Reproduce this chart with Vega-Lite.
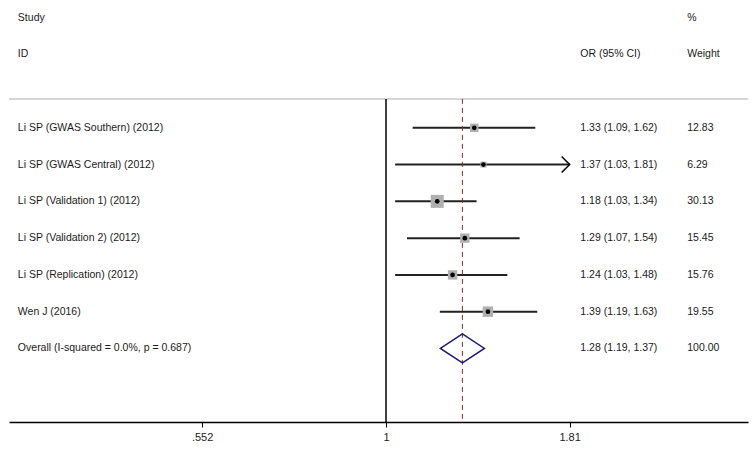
{
  "$schema": "https://vega.github.io/schema/vega-lite/v6.json",
  "width": 739,
  "height": 422,
  "autosize": {"type": "none"},
  "padding": {"left": 9, "top": 0, "right": 7, "bottom": 31},
  "background": "white",
  "config": {"view": {"stroke": null}, "text": {"font": "Liberation Sans", "fontSize": 10.5, "color": "#1a1a1a"}},
  "data": {"values": [
    {"row": 1, "study": "Li SP (GWAS Southern) (2012)", "est": 1.33, "lo": 1.09, "hi": 1.62, "weight": 12.83, "ortext": "1.33 (1.09, 1.62)", "wtext": "12.83"},
    {"row": 2, "study": "Li SP (GWAS Central) (2012)", "est": 1.37, "lo": 1.03, "hi": 1.81, "weight": 6.29, "ortext": "1.37 (1.03, 1.81)", "wtext": "6.29"},
    {"row": 3, "study": "Li SP (Validation 1) (2012)", "est": 1.18, "lo": 1.03, "hi": 1.34, "weight": 30.13, "ortext": "1.18 (1.03, 1.34)", "wtext": "30.13"},
    {"row": 4, "study": "Li SP (Validation 2) (2012)", "est": 1.29, "lo": 1.07, "hi": 1.54, "weight": 15.45, "ortext": "1.29 (1.07, 1.54)", "wtext": "15.45"},
    {"row": 5, "study": "Li SP (Replication) (2012)", "est": 1.24, "lo": 1.03, "hi": 1.48, "weight": 15.76, "ortext": "1.24 (1.03, 1.48)", "wtext": "15.76"},
    {"row": 6, "study": "Wen J (2016)", "est": 1.39, "lo": 1.19, "hi": 1.63, "weight": 19.55, "ortext": "1.39 (1.19, 1.63)", "wtext": "19.55"},
    {"row": 7, "study": "Overall  (I-squared = 0.0%, p = 0.687)", "est": 1.28, "lo": 1.19, "hi": 1.37, "weight": 100, "ortext": "1.28 (1.19, 1.37)", "wtext": "100.00"}
  ]},
  "layer": [
    {
      "data": {"values": [{}]},
      "mark": {"type": "rule", "color": "#c8c8c8", "strokeWidth": 1.5},
      "encoding": {
        "y": {"datum": 0.213, "type": "quantitative", "scale": {"domain": [-2.476, 9], "reverse": true, "nice": false, "zero": false}, "axis": null}
      }
    },
    {
      "transform": [{"filter": "datum.row <= 6"}],
      "mark": {"type": "rule", "color": "#222222", "strokeWidth": 2},
      "encoding": {
        "x": {"field": "lo", "type": "quantitative",
          "scale": {"type": "log", "domain": [0.2958, 3.2207], "nice": false, "zero": false},
          "axis": {"values": [0.552, 1, 1.81], "labelExpr": "replace(format(datum.value, '.3~f'), /^0/, '')", "title": null, "grid": false,
            "domainColor": "#000000", "domainWidth": 1.5, "tickColor": "#000000", "tickWidth": 1, "tickSize": 5,
            "labelFont": "Liberation Sans", "labelFontSize": 11, "labelColor": "#1a1a1a", "labelPadding": 4}},
        "x2": {"field": "hi"},
        "y": {"field": "row", "type": "quantitative", "axis": null}
      }
    },
    {
      "data": {"values": [{}]},
      "mark": {"type": "rule", "color": "#000000", "strokeWidth": 1.5},
      "encoding": {
        "x": {"datum": 1, "type": "quantitative"},
        "y": {"datum": 0.213, "type": "quantitative", "axis": null},
        "y2": {"datum": 9}
      }
    },
    {
      "data": {"values": [{}]},
      "mark": {"type": "rule", "color": "#8b2a2a", "strokeWidth": 1, "strokeDash": [5, 4]},
      "encoding": {
        "x": {"datum": 1.28, "type": "quantitative"},
        "y": {"datum": 0.213, "type": "quantitative", "axis": null},
        "y2": {"datum": 9}
      }
    },
    {
      "transform": [{"filter": "datum.row <= 6"}],
      "mark": {"type": "point", "shape": "square", "filled": true, "color": "#b0b0b0", "opacity": 1, "strokeWidth": 0},
      "encoding": {
        "x": {"field": "est", "type": "quantitative"},
        "y": {"field": "row", "type": "quantitative", "axis": null},
        "size": {"field": "weight", "type": "quantitative", "scale": {"type": "linear", "domain": [0, 30.13], "range": [0, 169]}, "legend": null}
      }
    },
    {
      "transform": [{"filter": "datum.row <= 6"}],
      "mark": {"type": "point", "shape": "circle", "filled": true, "color": "#000000", "opacity": 1, "size": 22, "strokeWidth": 0},
      "encoding": {
        "x": {"field": "est", "type": "quantitative"},
        "y": {"field": "row", "type": "quantitative", "axis": null}
      }
    },
    {
      "transform": [{"filter": "datum.row <= 6 && datum.hi >= 1.81"}],
      "mark": {"type": "point", "shape": "M-1,-1L0,0L-1,1", "filled": false, "color": "#000000", "opacity": 1, "size": 256, "strokeWidth": 1.5},
      "encoding": {
        "x": {"field": "hi", "type": "quantitative"},
        "y": {"field": "row", "type": "quantitative", "axis": null}
      }
    },
    {
      "transform": [{"filter": "datum.row == 7"}],
      "mark": {"type": "point", "shape": "M-1,0L0,-0.66L1,0L0,0.66Z", "filled": false, "color": "#1c1c74", "opacity": 1, "size": 1936, "strokeWidth": 1.5},
      "encoding": {
        "x": {"field": "est", "type": "quantitative"},
        "y": {"field": "row", "type": "quantitative", "axis": null}
      }
    },
    {
      "mark": {"type": "text", "align": "left", "baseline": "middle"},
      "encoding": {
        "x": {"datum": 0.3044, "type": "quantitative"},
        "y": {"field": "row", "type": "quantitative", "axis": null},
        "text": {"field": "study"}
      }
    },
    {
      "mark": {"type": "text", "align": "left", "baseline": "middle"},
      "encoding": {
        "x": {"datum": 1.8735, "type": "quantitative"},
        "y": {"field": "row", "type": "quantitative", "axis": null},
        "text": {"field": "ortext"}
      }
    },
    {
      "mark": {"type": "text", "align": "left", "baseline": "middle"},
      "encoding": {
        "x": {"datum": 2.6464, "type": "quantitative"},
        "y": {"field": "row", "type": "quantitative", "axis": null},
        "text": {"field": "wtext"}
      }
    },
    {
      "data": {"values": [{}]},
      "mark": {"type": "text", "align": "left", "baseline": "middle", "text": "Study"},
      "encoding": {
        "x": {"datum": 0.3044, "type": "quantitative"},
        "y": {"datum": -2, "type": "quantitative", "axis": null}
      }
    },
    {
      "data": {"values": [{}]},
      "mark": {"type": "text", "align": "left", "baseline": "middle", "text": "ID"},
      "encoding": {
        "x": {"datum": 0.3044, "type": "quantitative"},
        "y": {"datum": -1, "type": "quantitative", "axis": null}
      }
    },
    {
      "data": {"values": [{}]},
      "mark": {"type": "text", "align": "left", "baseline": "middle", "text": "OR (95% CI)"},
      "encoding": {
        "x": {"datum": 1.8735, "type": "quantitative"},
        "y": {"datum": -1, "type": "quantitative", "axis": null}
      }
    },
    {
      "data": {"values": [{}]},
      "mark": {"type": "text", "align": "left", "baseline": "middle", "text": "%"},
      "encoding": {
        "x": {"datum": 2.6464, "type": "quantitative"},
        "y": {"datum": -2, "type": "quantitative", "axis": null}
      }
    },
    {
      "data": {"values": [{}]},
      "mark": {"type": "text", "align": "left", "baseline": "middle", "text": "Weight"},
      "encoding": {
        "x": {"datum": 2.6464, "type": "quantitative"},
        "y": {"datum": -1, "type": "quantitative", "axis": null}
      }
    }
  ]
}
